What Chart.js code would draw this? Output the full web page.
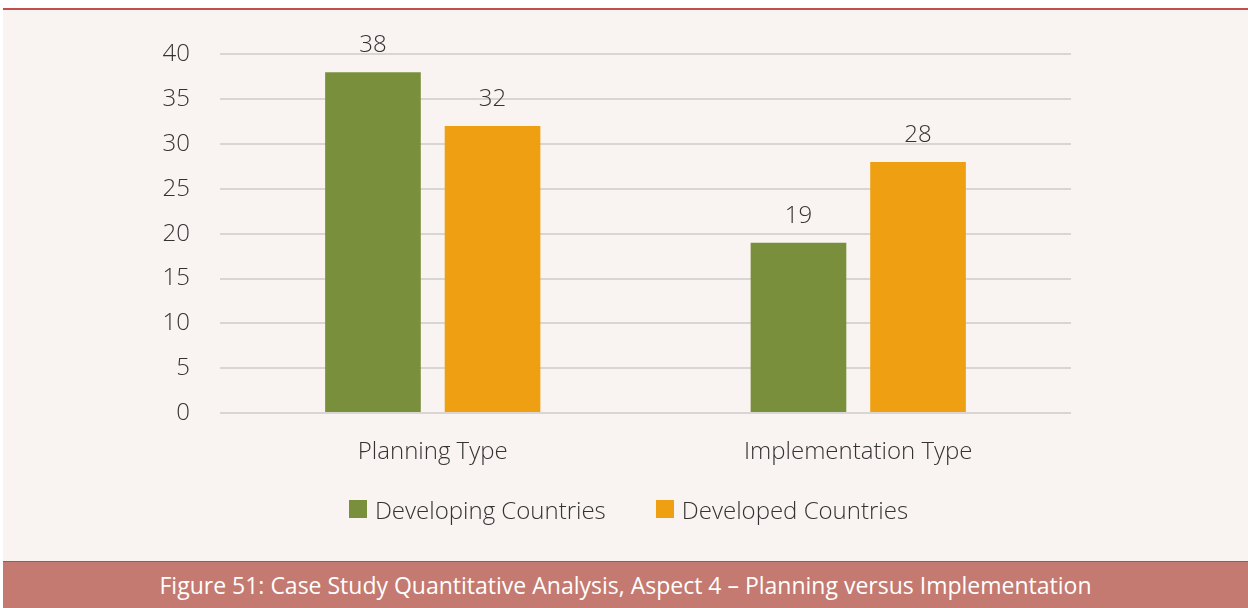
<!DOCTYPE html>
<html>
<head>
<meta charset="utf-8">
<script src="https://cdn.jsdelivr.net/npm/chart.js@4"></script>
<style>
  html, body { margin: 0; padding: 0; background: #fff; }
  #page { position: relative; width: 1248px; height: 608px; background: #fff; overflow: hidden; }
  #panel {
    position: absolute; left: 3px; top: 8px; width: 1245px; height: 551px;
    background: #f9f4f1; border-top: 2px solid #c0504d;
  }
  #legend {
    position: absolute; left: 0; top: 481px; width: 1251px; height: 36px;
    display: flex; justify-content: center; align-items: center;
    font-family: "Open Sans", sans-serif; font-weight: 300; font-size: 24px; color: #333;
  }
  #legend span.item { display: flex; align-items: center; margin: 0 25px; }
  #legend span.box { width: 18px; height: 18px; margin-right: 8px; }
  #caption {
    position: absolute; left: 3px; top: 561px; width: 1245px; height: 46px;
    background: #c47a70; border-top: 1px solid #a9534c;
    color: #fff; font-family: "Open Sans", sans-serif; font-size: 23px;
    line-height: 46px; text-align: center;
  }
</style>
</head>
<body>
<div id="page">
  <div id="panel">
    <canvas id="aspect4"></canvas>
    <div id="legend"></div>
  </div>
  <div id="caption">Figure 51: Case Study Quantitative Analysis, Aspect 4 – Planning versus Implementation</div>
</div>
<script>
// case study counts, aspect 4
const categories = ['Planning Type', 'Implementation Type'];
const seriesNames = ['Developing Countries', 'Developed Countries'];
const developing = [38, 19];
const developed = [32, 28];
const yTicks = [0, 5, 10, 15, 20, 25, 30, 35, 40];
const colors = ['#7a8f3c', '#eea012'];

const FONT = '"Open Sans", sans-serif';
const INK = '#333';

// numbers above each bar
const valueLabels = {
  id: 'valueLabels',
  afterDatasetsDraw(chart) {
    const ctx = chart.ctx;
    ctx.save();
    ctx.font = '300 24px ' + FONT;
    ctx.fillStyle = INK;
    ctx.textAlign = 'center';
    ctx.textBaseline = 'middle';
    chart.data.datasets.forEach((ds, i) => {
      chart.getDatasetMeta(i).data.forEach((bar, j) => {
        ctx.fillText(ds.data[j], bar.x, bar.y - 27);
      });
    });
    ctx.restore();
  }
};

const data = {
  labels: categories,
  datasets: [{
    label: seriesNames[0],
    data: developing,
    backgroundColor: colors[0]
  }, {
    label: seriesNames[1],
    data: developed,
    backgroundColor: colors[1]
  }]
};

const config = {
  type: 'bar',
  data: data,
  options: {
    responsive: true,
    maintainAspectRatio: false,
    animation: false,
    datasets: {
      bar: { categoryPercentage: 0.562, barPercentage: 0.8 }
    },
    layout: {
      padding: { left: 0, right: 177, top: 43, bottom: 88 }
    },
    plugins: {
      tooltip: { enabled: false },
      legend: { display: false }
    },
    scales: {
      x: {
        afterFit(scale) { scale.height = 60; },
        grid: { display: false, drawTicks: false },
        border: { display: false },
        ticks: {
          color: INK,
          padding: 25,
          font: { family: FONT, size: 24, weight: '300' }
        }
      },
      y: {
        min: 0,
        max: 40,
        afterFit(scale) { scale.width = 217; },
        afterBuildTicks(scale) { scale.ticks = yTicks.map(v => ({ value: v })); },
        grid: { color: '#d9d5d2', lineWidth: 2, drawTicks: false },
        border: { display: false },
        ticks: {
          color: INK,
          padding: 30,
          font: { family: FONT, size: 24, weight: '300' }
        }
      }
    }
  },
  plugins: [valueLabels]
};

const aspectChart = new Chart(document.getElementById('aspect4'), config);

// legend underneath, built from the datasets
const legend = document.getElementById('legend');
aspectChart.data.datasets.forEach(ds => {
  const item = document.createElement('span');
  item.className = 'item';
  const box = document.createElement('span');
  box.className = 'box';
  box.style.background = ds.backgroundColor;
  item.appendChild(box);
  item.appendChild(document.createTextNode(ds.label));
  legend.appendChild(item);
});
</script>
</body>
</html>
